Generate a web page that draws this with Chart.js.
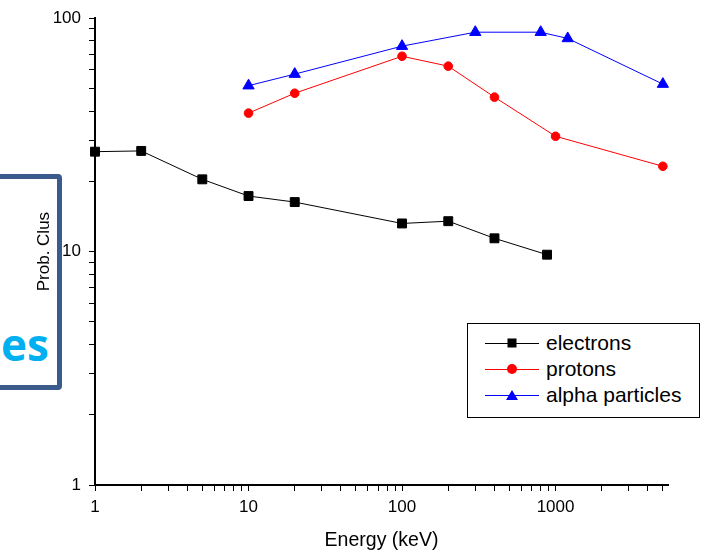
<!DOCTYPE html>
<html>
<head>
<meta charset="utf-8">
<script src="https://cdn.jsdelivr.net/npm/chart.js@4/dist/chart.umd.min.js"></script>
<style>
    body { margin: 0; background: #fff; }
    #wrap { position: relative; width: 701px; height: 554px; overflow: hidden; font-family: Arial, "Liberation Sans", sans-serif; }
    #grafico { position: absolute; left: 0; top: 0; }
    .deco { position: absolute; left: -12px; top: 174px; width: 64px; height: 206px; border: 5px solid #3b5b8c; border-radius: 4px; }
    .deco span { position: absolute; left: 8px; top: 140px; color: #00b0f0; font: bold 44px "Open Sans", sans-serif; line-height: 50px; }
    #leyenda { position: absolute; left: 467px; top: 323px; width: 231px; height: 87px; border: 1px solid #000; background: #fff; padding-top: 6px; box-sizing: content-box; }
    .fila { display: flex; align-items: center; height: 26px; }
    .muestra { position: relative; width: 54px; height: 26px; margin-left: 17px; }
    .muestra .linea { position: absolute; left: 0; right: 0; top: 13px; height: 1px; }
    .muestra .marca { position: absolute; left: 50%; top: 50%; transform: translate(-50%, -50%); }
    .fila .texto { margin-left: 7px; font-size: 21px; color: #000; }
</style>
</head>
<body>
<div id="wrap">
    <div class="deco"><span>es</span></div>
    <canvas id="grafico" width="701" height="554"></canvas>
    <div id="leyenda"></div>
</div>
<script>
// Datos (Energía en keV, probabilidad de cluster)
const energiaElectrones = [1, 2, 5, 10, 20, 100, 200, 400, 880];
const probElectrones = [26.8, 27.0, 20.4, 17.3, 16.3, 13.2, 13.5, 11.4, 9.7];

const energiaProtones = [10, 20, 100, 200, 400, 1000, 5000];
const probProtones = [39.2, 47.7, 68.7, 62.3, 45.9, 31.2, 23.2];

const energiaAlfa = [10, 20, 100, 300, 800, 1200, 5000];
const probAlfa = [51.4, 57.6, 75.9, 87.1, 87.1, 81.9, 52.2];

const nombresSeries = ['electrons', 'protons', 'alpha particles'];
const marcasX = [1, 10, 100, 1000];
const marcasY = [1, 10, 100];

// ticks menores 1..9 por década
function ticksLog(min, max) {
    const lista = [];
    for (let d = min; d < max * 10; d *= 10) {
        for (let k = 1; k <= 9; k++) {
            const v = k * d;
            if (v >= min && v <= max) lista.push(v);
        }
    }
    return lista;
}

function puntos(xs, ys) {
    return xs.map((x, i) => ({ x: x, y: ys[i] }));
}

const fuente = 'Arial, "Liberation Sans", sans-serif';

const series = [
    { label: nombresSeries[0], data: puntos(energiaElectrones, probElectrones), color: '#000000', estilo: 'rect', radio: 6.3 },
    { label: nombresSeries[1], data: puntos(energiaProtones, probProtones), color: '#ff0000', estilo: 'circle', radio: 4.3 },
    { label: nombresSeries[2], data: puntos(energiaAlfa, probAlfa), color: '#0000ff', estilo: 'triangle', radio: 6.5 }
];

new Chart(document.getElementById('grafico'), {
    type: 'line',
    data: {
        datasets: series.map(s => ({
            label: s.label,
            data: s.data,
            borderColor: s.color,
            backgroundColor: s.color,
            borderWidth: 1,
            pointStyle: s.estilo,
            pointRadius: s.radio,
            pointBorderWidth: 1,
            pointBorderColor: s.color,
            pointBackgroundColor: s.color,
            tension: 0,
            clip: false
        }))
    },
    options: {
        responsive: false,
        animation: false,
        devicePixelRatio: 1,
        layout: { padding: { top: 18, right: 33, left: 0, bottom: 0 } },
        plugins: {
            legend: { display: false },
            tooltip: { enabled: false }
        },
        scales: {
            x: {
                type: 'logarithmic',
                min: 1,
                max: 5400,
                afterBuildTicks: scale => { scale.ticks = ticksLog(1, 5000).map(v => ({ value: v })); },
                afterFit: scale => { scale.height = 69; },
                grid: { drawOnChartArea: false, drawTicks: true, tickLength: 6, tickColor: '#000', tickWidth: 1 },
                border: { display: true, color: '#000', width: 2 },
                ticks: {
                    autoSkip: false,
                    maxRotation: 0,
                    color: '#000',
                    padding: 6,
                    font: { family: fuente, size: 17 },
                    callback: v => marcasX.includes(v) ? String(v) : ''
                },
                title: { display: true, text: 'Energy (keV)', color: '#000', font: { family: fuente, size: 19.5 }, padding: { top: 0, bottom: 2 } }
            },
            y: {
                type: 'logarithmic',
                min: 1,
                max: 100,
                afterBuildTicks: scale => { scale.ticks = ticksLog(1, 100).map(v => ({ value: v })); },
                afterFit: scale => { scale.width = 95; },
                grid: { drawOnChartArea: false, drawTicks: true, tickLength: 6, tickColor: '#000', tickWidth: 1 },
                border: { display: true, color: '#000', width: 2 },
                ticks: {
                    autoSkip: false,
                    color: '#000',
                    padding: 8,
                    font: { family: fuente, size: 17 },
                    callback: v => marcasY.includes(v) ? String(v) : ''
                },
                title: { display: true, text: 'Prob. Clus', color: '#000', font: { family: fuente, size: 17 }, padding: { top: 34, bottom: 0 } }
            }
        }
    }
});

// Leyenda HTML con línea y marcador
const leyenda = document.getElementById('leyenda');
series.forEach(s => {
    let marca = '';
    if (s.estilo === 'rect') {
        marca = `<div class="marca" style="width:9px;height:9px;background:${s.color}"></div>`;
    } else if (s.estilo === 'circle') {
        marca = `<div class="marca" style="width:10px;height:10px;border-radius:50%;background:${s.color}"></div>`;
    } else {
        marca = `<div class="marca" style="width:0;height:0;border-left:6px solid transparent;border-right:6px solid transparent;border-bottom:10px solid ${s.color}"></div>`;
    }
    leyenda.innerHTML += `
        <div class="fila">
            <div class="muestra"><div class="linea" style="background:${s.color}"></div>${marca}</div>
            <span class="texto">${s.label}</span>
        </div>`;
});
</script>
</body>
</html>
